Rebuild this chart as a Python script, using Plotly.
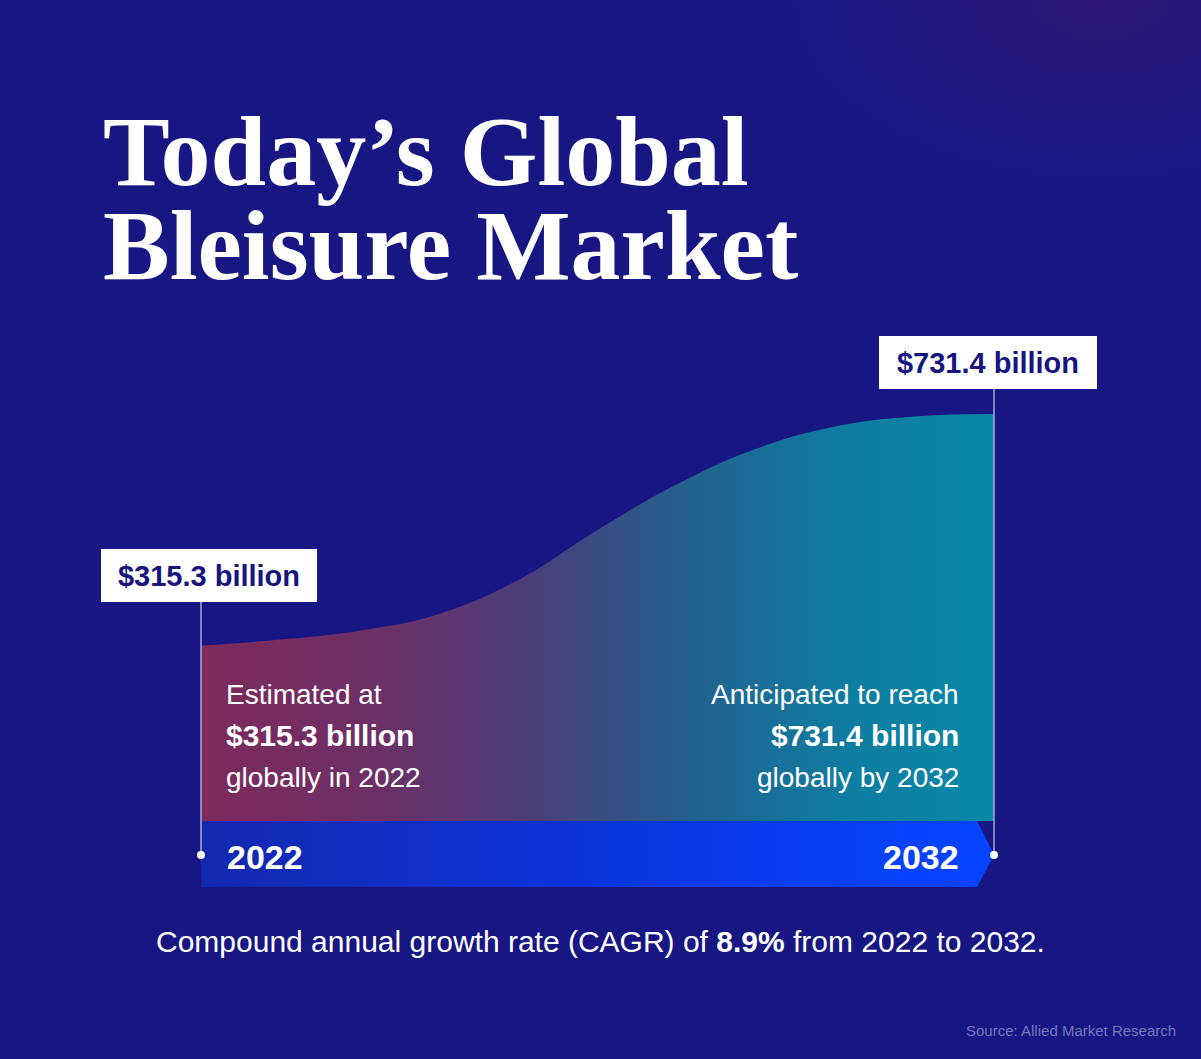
import plotly.graph_objects as go

# ---------------- data ----------------
years = [2022, 2023, 2024, 2025, 2026, 2027, 2028, 2029, 2030, 2031, 2032]
# market-size curve as drawn in the picture (US$ billion)
curve_values = [315.3, 326, 342, 372, 433, 523, 605, 669, 709, 727, 731.4]
start_year, end_year = years[0], years[-1]
start_value, end_value = curve_values[0], curve_values[-1]
start_label = "$315.3 billion"
end_label = "$731.4 billion"
left_text = ["Estimated at", "<b>$315.3 billion</b>", "globally in 2022"]
right_text = ["Anticipated to reach", "<b>$731.4 billion</b>", "globally by 2032"]
title_lines = ["Today\u2019s Global", "Bleisure Market"]
cagr_text = "Compound annual growth rate (CAGR) of <b>8.9%</b> from 2022 to 2032."
source_text = "Source: Allied Market Research"

# ---------------- layout geometry ----------------
W, H = 1201, 1059
BG = "#171682"
NAVY = "#17157f"
PX_START, PX_END = 201, 994          # x pixel of first / last year
PY_ZERO, PY_TOP = 821, 414           # y pixel of 0 and of the end value
sx = (PX_END - PX_START) / (end_year - start_year)
sy = (PY_ZERO - PY_TOP) / end_value
x_lo = start_year - PX_START / sx
x_hi = start_year + (W - PX_START) / sx
y_hi = PY_ZERO / sy
y_lo = -(H - PY_ZERO) / sy

def px_to_x(px):
    return start_year + (px - PX_START) / sx

def py_to_y(py):
    return (PY_ZERO - py) / sy

band_depth = 66 / sy
band_mid = -34 / sy
arrow_d = 17 / sx

fig = go.Figure()

# subtle glow in the top-right corner
gx0, gx1 = px_to_x(650), px_to_x(1550)
gy0, gy1 = py_to_y(260), py_to_y(-260)
fig.add_trace(go.Scatter(
    x=[gx0, gx1, gx1, gx0, gx0], y=[gy0, gy0, gy1, gy1, gy0],
    mode="lines", line=dict(width=0), fill="toself",
    fillgradient=dict(type="radial",
                      colorscale=[[0, "rgba(48,24,118,0.95)"], [0.6, "rgba(35,22,124,0.4)"], [1, "rgba(23,22,130,0)"]]),
    hoverinfo="skip", showlegend=False))

# gradient area (market growth curve)
fig.add_trace(go.Scatter(
    x=years, y=curve_values, mode="lines",
    line=dict(width=0, shape="spline", smoothing=1.2),
    fill="tozeroy",
    fillgradient=dict(type="horizontal",
                      colorscale=[[0, "#7d2a5c"], [0.22, "#6d2f66"], [0.42, "#4a3e7a"],
                                  [0.62, "#22628f"], [0.82, "#0e7da2"], [1, "#0a88a8"]]),
    hoverinfo="skip", showlegend=False))

# timeline arrow band
fig.add_trace(go.Scatter(
    x=[start_year, end_year - arrow_d, end_year, end_year - arrow_d, start_year, start_year],
    y=[0, 0, band_mid, -band_depth, -band_depth, 0],
    mode="lines", line=dict(width=0), fill="toself",
    fillgradient=dict(type="horizontal",
                      colorscale=[[0, "#1428ae"], [0.45, "#0c33d6"], [0.75, "#083ef2"], [1, "#0644ff"]]),
    hoverinfo="skip", showlegend=False))

# connector lines and dots
box_gap = [44, 25]   # px between value and label box bottom
for yr, val, gap in zip([start_year, end_year], [start_value, end_value], box_gap):
    top = val + gap / sy
    fig.add_trace(go.Scatter(x=[yr, yr], y=[band_mid, top], mode="lines",
                             line=dict(color="#a9a9dc", width=1.5),
                             hoverinfo="skip", showlegend=False))
fig.add_trace(go.Scatter(x=[start_year, end_year], y=[band_mid, band_mid], mode="markers",
                         marker=dict(color="white", size=8),
                         hoverinfo="skip", showlegend=False))

ann = []
# value label boxes
for yr, val, gap, txt, xs, bw in [(start_year, start_value, box_gap[0], start_label, 8, 216),
                                  (end_year, end_value, box_gap[1], end_label, -6, 218)]:
    ann.append(dict(x=yr, y=val + gap / sy, xref="x", yref="y", xanchor="center", yanchor="bottom",
                    xshift=xs, text="<b>" + txt + "</b>", showarrow=False, bgcolor="white",
                    width=bw, height=53, borderpad=0, borderwidth=0,
                    font=dict(family="Liberation Sans", size=29, color=NAVY), align="center"))

# title
for i, line in enumerate(title_lines):
    ann.append(dict(x=101 / W, y=1 - (151 + 94 * i) / H, xref="paper", yref="paper",
                    xanchor="left", yanchor="middle", text="<b>" + line + "</b>", showarrow=False,
                    font=dict(family="Liberation Serif", size=100, color="white")))

# descriptive texts in the area
line_y = [694, 735, 777]
for t, py in zip(left_text, line_y):
    ann.append(dict(x=start_year, y=1 - py / H, xref="x", yref="paper", xshift=23,
                    xanchor="left", yanchor="middle", text=t, showarrow=False,
                    font=dict(family="Liberation Sans", size=30 if "<b>" in t else 28, color="white")))
for t, py in zip(right_text, line_y):
    ann.append(dict(x=end_year, y=1 - py / H, xref="x", yref="paper", xshift=-33,
                    xanchor="right", yanchor="middle", text=t, showarrow=False,
                    font=dict(family="Liberation Sans", size=30 if "<b>" in t else 28, color="white")))

# year labels on band
ann.append(dict(x=start_year, y=band_mid, xref="x", yref="y", xshift=24, yshift=-2,
                xanchor="left", yanchor="middle", text="<b>%d</b>" % start_year, showarrow=False,
                font=dict(family="Liberation Sans", size=34, color="white")))
ann.append(dict(x=end_year, y=band_mid, xref="x", yref="y", xshift=-33, yshift=-2,
                xanchor="right", yanchor="middle", text="<b>%d</b>" % end_year, showarrow=False,
                font=dict(family="Liberation Sans", size=34, color="white")))

# CAGR sentence
ann.append(dict(x=600 / W, y=1 - 941 / H, xref="paper", yref="paper", xanchor="center",
                yanchor="middle", text=cagr_text, showarrow=False,
                font=dict(family="Liberation Sans", size=30, color="white")))
# source
ann.append(dict(x=1178 / W, y=1 - 1030 / H, xref="paper", yref="paper", xanchor="right",
                yanchor="middle", text=source_text, showarrow=False,
                font=dict(family="Liberation Sans", size=15, color="#7575bd")))

fig.update_layout(
    width=W, height=H, margin=dict(l=0, r=0, t=0, b=0),
    paper_bgcolor=BG, plot_bgcolor=BG, showlegend=False, hovermode=False,
    xaxis=dict(range=[x_lo, x_hi], visible=False, fixedrange=True),
    yaxis=dict(range=[y_lo, y_hi], visible=False, fixedrange=True),
    annotations=ann,
)

fig.write_html("out.html", config={"displayModeBar": False})
